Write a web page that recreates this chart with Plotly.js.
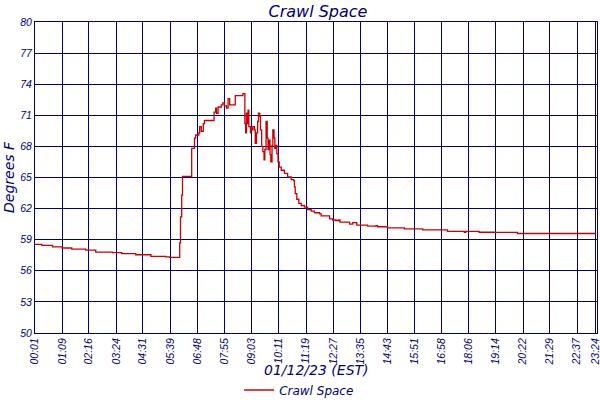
<!DOCTYPE html>
<html>
<head>
<meta charset="utf-8">
<script src="https://cdn.plot.ly/plotly-3.0.1.min.js"></script>
<style>
  html, body { margin: 0; padding: 0; background: #ffffff; }
  #chart { width: 600px; height: 400px; }
</style>
</head>
<body>
<div id="chart"></div>
<script>
// readings of the crawl space sensor, 01/12/23
const times = [
  '00:01', '00:18', '00:45', '01:09', '01:33', '02:08', '02:33', '03:15', '03:38', '04:13',
  '04:51', '05:28', '05:38', '06:03', '06:05', '06:08', '06:10', '06:33', '06:40', '06:43',
  '06:51', '06:53', '06:57', '07:02', '07:05', '07:29', '07:33', '07:35', '07:39', '07:47',
  '07:51', '07:55', '08:00', '08:04', '08:08', '08:22', '08:41', '08:46', '08:48', '08:50',
  '08:51', '08:54', '08:56', '09:00', '09:01', '09:04', '09:06', '09:10', '09:12', '09:15',
  '09:18', '09:20', '09:23', '09:25', '09:28', '09:31', '09:34', '09:36', '09:39', '09:42',
  '09:44', '09:46', '09:49', '09:51', '09:54', '09:56', '09:59', '10:01', '10:04', '10:06',
  '10:09', '10:12', '10:17', '10:25', '10:33', '10:42', '10:48', '10:50', '10:52', '10:56',
  '11:01', '11:07', '11:15', '11:23', '11:32', '11:40', '11:53', '11:57', '12:18', '12:26',
  '12:34', '12:41', '12:44', '13:08', '13:16', '13:26', '13:53', '14:14', '14:18', '14:43',
  '15:25', '16:11', '17:13', '17:55', '17:59', '18:32', '19:10', '20:08', '23:24'
];
const temps = [
  58.55, 58.45, 58.3, 58.2, 58.1, 58.0, 57.8, 57.75, 57.65, 57.55,
  57.4, 57.35, 57.3, 58.7, 61.2, 63.3, 65.1, 67.8, 68.8, 69.1,
  69.3, 69.9, 69.45, 70.2, 70.5, 71.3, 71.7, 71.2, 71.8, 72.0,
  72.2, 71.9, 71.7, 72.6, 72.0, 72.9, 73.1, 70.2, 69.3, 71.2,
  70.2, 71.5, 69.9, 69.3, 69.75, 69.6, 69.9, 69.6, 68.3, 69.3,
  70.4, 71.2, 70.9, 69.6, 68.0, 67.5, 66.7, 67.7, 70.4, 68.8,
  67.7, 68.6, 67.2, 66.5, 68.1, 69.6, 68.8, 67.8, 68.1, 67.3,
  66.5, 66.0, 65.7, 65.4, 65.05, 64.8, 64.7, 64.1, 63.45, 62.9,
  62.5, 62.3, 62.15, 61.9, 61.75, 61.6, 61.5, 61.3, 61.0, 60.9,
  60.85, 60.9, 60.7, 60.5, 60.65, 60.4, 60.3, 60.35, 60.25, 60.15,
  60.05, 59.95, 59.8, 59.72, 59.8, 59.72, 59.7, 59.6, 59.6
];

const xTicks = [
  '00:01', '01:09', '02:16', '03:24', '04:31', '05:39', '06:48', '07:55', '09:03', '10:11', '11:19',
  '12:27', '13:35', '14:43', '15:51', '16:58', '18:06', '19:14', '20:22', '21:29', '22:37', '23:24'
];
const yTicks = [50, 53, 56, 59, 62, 65, 68, 71, 74, 77, 80];

const DAY = '2023-01-12 ';
const NAVY = '#000080';
const RED = '#cc0000';
const SANS = 'DejaVu Sans, Verdana, sans-serif';
const TICK_FONT = 'Liberation Sans, Arial, sans-serif';

const trace = {
  type: 'scatter',
  mode: 'lines',
  name: '<i>Crawl Space</i>',
  x: times.map(t => DAY + t),
  y: temps,
  line: { color: RED, width: 1.3, shape: 'hv' },
};

const layout = {
  width: 600,
  height: 400,
  paper_bgcolor: '#ffffff',
  plot_bgcolor: '#ffffff',
  margin: { l: 35, r: 3, t: 22, b: 67 },
  title: {
    text: '<i>Crawl Space</i>',
    font: { family: SANS, size: 16, color: NAVY },
    x: 0.53, xanchor: 'center', y: 0.985, yanchor: 'top',
  },
  xaxis: {
    type: 'date',
    automargin: false,
    range: [DAY + '00:01', DAY + '23:27'],
    tickvals: xTicks.map(t => DAY + t),
    ticktext: xTicks.map(t => '<i>' + t + '</i>'),
    tickangle: -90,
    ticklabeloverflow: 'allow',
    tickfont: { family: TICK_FONT, size: 10.5, color: NAVY },
    showgrid: true,
    gridcolor: NAVY,
    gridwidth: 1,
    showline: true,
    linecolor: NAVY,
    linewidth: 1,
    mirror: true,
    zeroline: false,
    ticks: '',
  },
  yaxis: {
    automargin: false,
    range: [50, 80],
    tickvals: yTicks,
    ticktext: yTicks.map(v => '<i>' + v + '</i>'),
    tickfont: { family: TICK_FONT, size: 10.5, color: NAVY },
    showgrid: true,
    gridcolor: NAVY,
    gridwidth: 1,
    showline: true,
    linecolor: NAVY,
    linewidth: 1,
    mirror: true,
    zeroline: false,
    ticks: '',
    title: {
      text: '<i>Degrees F</i>',
      font: { family: SANS, size: 14, color: NAVY },
      standoff: 2,
    },
  },
  annotations: [{
    text: '<i>01/12/23 (EST)</i>',
    xref: 'paper', x: 0.5, xanchor: 'center',
    yref: 'paper', y: -0.119, yanchor: 'middle',
    showarrow: false,
    font: { family: SANS, size: 14, color: NAVY },
  }],
  showlegend: true,
  legend: {
    orientation: 'h',
    x: 0.47, xanchor: 'center',
    yref: 'container',
    y: 0.025, yanchor: 'middle',
    font: { family: SANS, size: 12, color: NAVY },
    bgcolor: 'rgba(0,0,0,0)',
  },
};

Plotly.newPlot('chart', [trace], layout, { displayModeBar: false, staticPlot: true });
</script>
</body>
</html>
